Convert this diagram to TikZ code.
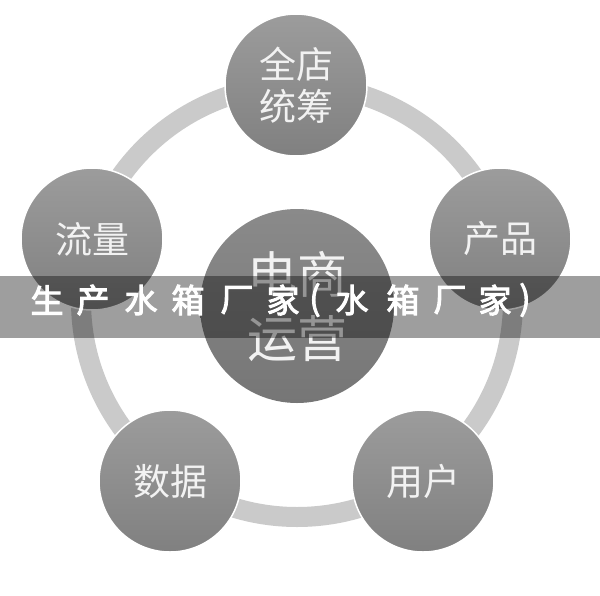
\documentclass[tikz,border=0pt]{standalone}
\usepackage{fontspec}
\setmainfont{Noto Sans CJK SC}
\newfontfamily\cjkb{Noto Sans CJK SC}[FakeBold=3]
\begin{document}
\begin{tikzpicture}[x=1pt,y=-1pt,
  outer/.style={circle,minimum size=142pt,inner sep=0pt,top color=ballgray1,bottom color=ballgray2,draw=white,line width=1.5pt,text=txtc,font=\fontsize{37}{42}\selectfont,align=center},
  center/.style={circle,minimum size=194pt,inner sep=0pt,top color=ctr1,bottom color=ctr2,text=txtc,font=\fontsize{50}{64}\selectfont,align=center},
  btxt/.style={text=white,font=\cjkb\fontsize{33}{33}\selectfont,inner sep=0pt,anchor=center}]
\definecolor{ballgray1}{HTML}{9C9C9C}
\definecolor{ballgray2}{HTML}{808080}
\definecolor{ctr1}{HTML}{8A8A8A}
\definecolor{ctr2}{HTML}{767676}
\definecolor{ringc}{HTML}{CACACA}
\definecolor{txtc}{HTML}{F2F2F2}
\useasboundingbox (0,0) rectangle (600,595);
\fill[white] (0,0) rectangle (600,595);
\coordinate (o) at (297,301);
\draw[ringc,line width=20pt] (o) circle[radius=216];
\node[center] (c) at (297,306) {电商\\运营};
\node[outer] (t) at (296,85) {全店\\统筹};
\node[outer] (l) at (92,239) {流量};
\node[outer] (r) at (500,239) {产品};
\node[outer] (bl) at (170,481) {数据};
\node[outer] (br) at (423,481) {用户};
\fill[black,opacity=0.38] (0,276) rectangle (600,338);
\node[btxt] (b1) at (47,300) {生};
\node[btxt] (b2) at (93,300) {产};
\node[btxt] (b3) at (141,300) {水};
\node[btxt] (b4) at (188,300) {箱};
\node[btxt] (b5) at (237,300) {厂};
\node[btxt] (b6) at (283,300) {家};
\node[btxt] (b7) at (315,300) {(};
\node[btxt] (b8) at (352,300) {水};
\node[btxt] (b9) at (403,300) {箱};
\node[btxt] (b10) at (450,300) {厂};
\node[btxt] (b11) at (495,300) {家};
\node[btxt] (b12) at (525,300) {)};
\end{tikzpicture}
\end{document}
